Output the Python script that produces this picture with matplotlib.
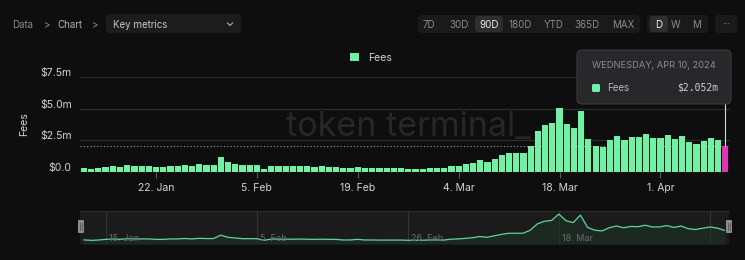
import matplotlib
matplotlib.use('Agg')
import matplotlib.pyplot as plt
import matplotlib.dates as mdates
import matplotlib.transforms as mtransforms
from matplotlib.patches import FancyBboxPatch
import pandas as pd

# daily fees, $m (12 Jan 2024 .. 10 Apr 2024)
fees = [0.30, 0.22, 0.28, 0.40, 0.48, 0.40, 0.53, 0.48, 0.48, 0.48,
        0.40, 0.40, 0.48, 0.48, 0.56, 0.48, 0.59, 0.55, 0.55, 1.17,
        0.78, 0.65, 0.53, 0.53, 0.53, 0.24, 0.45, 0.45, 0.43, 0.43,
        0.45, 0.43, 0.40, 0.43, 0.40, 0.40, 0.29, 0.29, 0.40, 0.29,
        0.29, 0.27, 0.27, 0.27, 0.27, 0.24, 0.24, 0.24, 0.29, 0.29,
        0.27, 0.43, 0.48, 0.59, 0.70, 0.93, 0.78, 1.04, 1.31, 1.52,
        1.52, 1.52, 2.05, 3.23, 3.72, 3.87, 5.03, 3.81, 3.48, 4.85,
        2.59, 2.08, 1.95, 2.53, 2.85, 2.53, 2.77, 2.72, 2.99, 2.67,
        2.67, 2.93, 2.59, 2.85, 2.35, 2.21, 2.45, 2.67, 2.48, 2.052]
days = pd.date_range('2024-01-12', periods=len(fees), freq='D')

y_ticks = [0, 2.5, 5.0, 7.5]
y_tick_labels = ['$0.0', '$2.5m', '$5.0m', '$7.5m']
x_tick_dates = ['2024-01-22', '2024-02-05', '2024-02-19', '2024-03-04', '2024-03-18', '2024-04-01']
x_tick_labels = ['22. Jan', '5. Feb', '19. Feb', '4. Mar', '18. Mar', '1. Apr']
nav_tick_dates = ['2024-01-15', '2024-02-05', '2024-02-26', '2024-03-18', '2024-04-08']
nav_tick_labels = ['15. Jan', '5. Feb', '26. Feb', '18. Mar', '']
ranges = ['7D', '30D', '90D', '180D', 'YTD', '365D', 'MAX']
ranges_x = [429, 459, 489, 520, 554, 587, 623]
freqs = ['D', 'W', 'M']
freqs_x = [659, 676, 697]

BG = '#0e0e0e'
GREEN = '#6ef2a6'
PINK = '#e632b8'
W, H = 745, 260

plt.rcParams['font.family'] = ['Inter', 'DejaVu Sans']
fig = plt.figure(figsize=(W / 100, H / 100), dpi=100, facecolor=BG)


def box(x0, y0, x1, y1):
    # pixel box (top-left origin) -> figure fraction rect
    return [x0 / W, 1 - y1 / H, (x1 - x0) / W, (y1 - y0) / H]


# main chart
ax = fig.add_axes(box(80, 77.3, 730, 171.7))
ax.set_facecolor('none')
colors = [GREEN] * (len(fees) - 1) + [PINK]
ax.bar(days, fees, width=0.86, color=colors, label='Fees', zorder=3)
x0 = mdates.date2num(days[0]) - 0.55
x1 = mdates.date2num(days[-1]) + 0.65
ax.set_xlim(x0, x1)
ax.set_ylim(0, 7.5)
for v in y_ticks[1:]:
    ax.axhline(v, color='#2c2c2c', lw=0.9, zorder=1)
ax.axhline(fees[-1], color='#a0a0a0', lw=0.8, ls=(0, (1, 2)), zorder=2)
ax.plot([days[-1], days[-1]], [fees[-1], 5.4], color='#d8d8d8', lw=0.8, zorder=4)
for s in ax.spines.values():
    s.set_visible(False)
ax.set_yticks(y_ticks)
ax.set_yticklabels(y_tick_labels)
ax.set_xticks(pd.to_datetime(x_tick_dates))
ax.set_xticklabels(x_tick_labels)
ax.tick_params(axis='y', length=0, pad=6, labelsize=7.5, labelcolor='#d4d4d4')
ax.tick_params(axis='x', length=4, width=0.8, color='#5a5a5a', pad=4, labelsize=7.5, labelcolor='#d4d4d4')
# y labels sit a little above their gridline
up = mtransforms.ScaledTranslation(0, 5 / 100, fig.dpi_scale_trans)
for lab in ax.get_yticklabels():
    lab.set_transform(lab.get_transform() + up)
ax.set_ylabel('Fees', color='#d4d4d4', fontsize=7.5, labelpad=8)
ax.text(0.505, 0.47, 'token terminal_', transform=ax.transAxes, ha='center', va='center',
        fontsize=24.5, color='#272727', zorder=0)
ax.legend(loc='center', bbox_to_anchor=(371 / W, 1 - 58 / H), bbox_transform=fig.transFigure,
          frameon=False, fontsize=7.5, labelcolor='#d4d4d4', handlelength=0.8, handleheight=0.8,
          handletextpad=0.9)

# navigator
nav = fig.add_axes(box(80, 211, 729, 244))
nav.set_facecolor('#1b1b1b')
nav.plot(days, fees, color='#5fd598', lw=0.9, zorder=3)
nav.fill_between(days, fees, -1, color='#1d3529', alpha=0.5, zorder=2)
nav.set_xlim(x0, x1)
nav.set_ylim(-0.45, 5.6)
nav.set_xticks([])
nav.set_yticks([])
for s in nav.spines.values():
    s.set_visible(False)
nav.spines['top'].set_visible(True)
nav.spines['top'].set_color('#2c2c2c')
for d, lab in zip(pd.to_datetime(nav_tick_dates), nav_tick_labels):
    nav.axvline(d, color='#333333', lw=0.8, zorder=1)
    nav.text(mdates.date2num(d) + 0.5, -0.25, lab, fontsize=6.5, color='#6a6a6a', va='bottom', zorder=4)

# overlay in pixel coordinates for UI chrome
ui = fig.add_axes([0, 0, 1, 1])
ui.set_xlim(0, W)
ui.set_ylim(H, 0)
ui.axis('off')
ui.set_facecolor('none')


def rbox(x0, y0, x1, y1, fc, ec='none', r=3, z=1):
    ui.add_patch(FancyBboxPatch((x0, y0), x1 - x0, y1 - y0,
                                boxstyle='round,pad=0,rounding_size=%s' % r,
                                fc=fc, ec=ec, lw=0.8, zorder=z))


# handles
for hx in (81, 729):
    rbox(hx - 3, 220, hx + 3, 233, '#8c8c8c', r=1, z=5)
    ui.plot([hx - 0.8, hx - 0.8], [223, 230], color='#555555', lw=0.6, zorder=6)
    ui.plot([hx + 0.8, hx + 0.8], [223, 230], color='#555555', lw=0.6, zorder=6)

# breadcrumb
ty = 24.8
ui.text(12, ty, 'Data', fontsize=7, color='#8a8a8a', va='center')
ui.text(44, ty, '>', fontsize=7, color='#8a8a8a', va='center')
ui.text(57, ty, 'Chart', fontsize=7, color='#b4b4b4', va='center')
ui.text(92, ty, '>', fontsize=7, color='#8a8a8a', va='center')
rbox(106, 14, 241, 33, '#1c1c1c', r=4)
ui.text(113, ty, 'Key metrics', fontsize=7, color='#c8c8c8', va='center')
ui.plot([227.5, 230, 232.5], [23, 25.5, 23], color='#b0b0b0', lw=0.8)

# range buttons
rbox(418, 15, 640, 33, '#1a1a1a', r=4)
rbox(475, 16, 503, 32, '#2e2e2e', r=3, z=2)
for lab, x in zip(ranges, ranges_x):
    ui.text(x, 25, lab, fontsize=7, color='#ececec' if lab == '90D' else '#8a8a8a',
            ha='center', va='center', zorder=3)
rbox(647, 15, 708, 33, '#1a1a1a', r=4)
rbox(650, 16, 668, 32, '#2e2e2e', r=3, z=2)
for lab, x in zip(freqs, freqs_x):
    ui.text(x, 25, lab, fontsize=7, color='#ececec' if lab == 'D' else '#8a8a8a',
            ha='center', va='center', zorder=3)
rbox(715, 15, 737, 33, '#1a1a1a', r=4)
ui.text(726, 24, '···', fontsize=7, color='#8a8a8a', ha='center', va='center')

# tooltip
rbox(577, 50, 731, 104, '#28282b', ec='#3a3a3d', r=5, z=7)
ui.text(592, 65, 'WEDNESDAY, APR 10, 2024', fontsize=6.7, color='#8c8c90', va='center', zorder=8)
rbox(592, 84, 600, 92, GREEN, r=1.5, z=8)
ui.text(607, 88, 'Fees', fontsize=7, color='#b8b8bc', va='center', zorder=8)
ui.text(718, 88, '$%.3fm' % fees[-1], fontsize=7, color='#d0d0d4', va='center', ha='right',
        family='DejaVu Sans Mono', zorder=8)

plt.savefig('out.png', dpi=100, facecolor=BG)
